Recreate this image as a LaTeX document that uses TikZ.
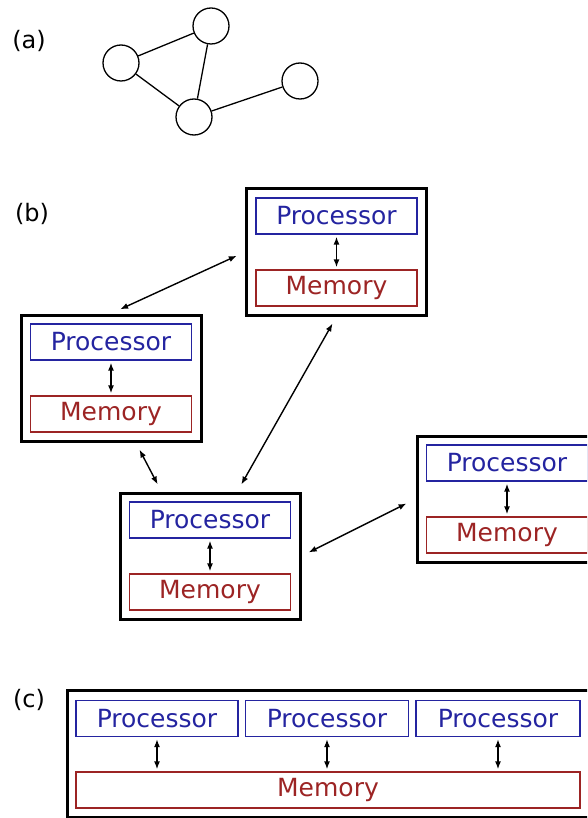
\documentclass[tikz,border=0pt]{standalone}
\usepackage{fontspec}
\setmainfont{DejaVu Sans}
\usetikzlibrary{
  positioning,
  arrows.meta
}
\definecolor{procblue}{HTML}{2424A0}
\definecolor{memred}{HTML}{9C2424}

\begin{document}
\begin{tikzpicture}[
  x=1pt, y=-1pt,
  lbl/.style={font=\fontsize{24}{28}\selectfont, inner sep=0pt},
  vert/.style={draw, circle, line width=1.3pt, minimum size=36, inner sep=0pt},
  proc/.style={draw=procblue, text=procblue, line width=1.3pt, minimum width=161,
               minimum height=36, inner sep=0pt, font=\fontsize{25}{30}\selectfont},
  mem/.style={draw=memred, text=memred, line width=1.3pt, minimum width=161,
              minimum height=36, inner sep=0pt, font=\fontsize{25}{30}\selectfont},
  mach/.style={draw, line width=3pt, minimum width=180, minimum height=126, inner sep=0pt},
  dbl/.style={{Latex[length=8pt,width=6pt]}-{Latex[length=8pt,width=6pt]}, line width=1.4pt, black}
]
  \useasboundingbox (0,0) rectangle (587,818);
  \clip (0,0) rectangle (587,818);

  % (a) graph
  \node[lbl] (la) at (29,41) {(a)};
  \node[vert] (v1) at (121,63) {};
  \node[vert] (v2) at (211,26) {};
  \node[vert] (v3) at (194,117) {};
  \node[vert] (v4) at (300,81) {};
  \draw[line width=1.3pt] (v1) -- (v2);
  \draw[line width=1.3pt] (v1) -- (v3);
  \draw[line width=1.3pt] (v2) -- (v3);
  \draw[line width=1.3pt] (v3) -- (v4);

  % (b) distributed machines
  \node[lbl] (lb) at (32,214) {(b)};
  \foreach \n/\x/\y in {1/336.5/252, 2/111/378, 3/210/556, 4/507/499} {
    \node[mach] (m\n) at (\x,\y) {};
    \node[proc] (p\n) at (\x,\y-36) {Processor};
    \node[mem] (r\n) at (\x,\y+36) {Memory};
    \draw[dbl, shorten <=2pt, shorten >=2pt] (p\n.south) -- (r\n.north);
  }
  \draw[dbl, shorten <=10pt, shorten >=9pt] (m2.north) -- (m1.west);
  \draw[dbl, shorten <=8pt, shorten >=8pt] (m1.south) -- (m3.67);
  \draw[dbl, shorten <=8pt, shorten >=8pt] (m2.-69) -- (m3.127);
  \draw[dbl, shorten <=10pt, shorten >=8pt] (m4.west) -- (m3.east);

  % (c) shared memory
  \node[lbl] (lc) at (29,700) {(c)};
  \node[mach, minimum width=533, minimum height=127] (mc) at (333.5,753.5) {};
  \node[proc, minimum width=162] (pc1) at (157,718.5) {Processor};
  \node[proc, minimum width=163] (pc2) at (327,718.5) {Processor};
  \node[proc, minimum width=164] (pc3) at (498,718.5) {Processor};
  \node[mem, minimum width=504] (rc) at (328,790) {Memory};
  \foreach \i in {1,2,3}
    \draw[dbl, shorten <=2pt, shorten >=2pt] (pc\i.south) -- (pc\i.south |- rc.north);
\end{tikzpicture}
\end{document}
